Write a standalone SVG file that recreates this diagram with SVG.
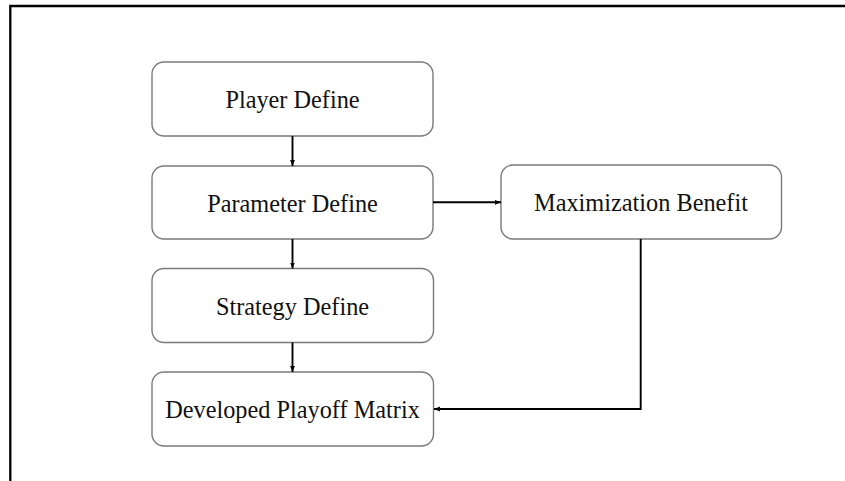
<svg xmlns="http://www.w3.org/2000/svg" width="845" height="481" viewBox="0 0 845 481">
<style>
.box{fill:#fff;stroke:#7a7a7a;stroke-width:1.4}
.lbl{font-family:"Liberation Serif","Times New Roman",serif;font-size:24.3px;fill:#111;text-anchor:middle}
.con{fill:none;stroke:#000;stroke-width:1.9}
.frame{fill:none;stroke:#000;stroke-width:2.3}
</style>
<defs>
<marker id="ah" viewBox="0 0 10 10" refX="10" refY="5" markerWidth="6" markerHeight="6" markerUnits="userSpaceOnUse" orient="auto">
<path d="M0,1 L10,5 L0,9 z" fill="#000"/>
</marker>
</defs>
<rect width="845" height="481" fill="#fff"/>
<path class="frame" d="M10.3,481 V6 H845"/>
<g id="player-define"><rect class="box" x="152" y="62" width="281" height="74" rx="12"/><text class="lbl" x="292.5" y="108">Player Define</text></g>
<g id="parameter-define"><rect class="box" x="152" y="166" width="281" height="73" rx="12"/><text class="lbl" x="292.5" y="211.5">Parameter Define</text></g>
<g id="strategy-define"><rect class="box" x="152" y="268.5" width="281.5" height="74" rx="12"/><text class="lbl" x="292.5" y="315">Strategy Define</text></g>
<g id="developed-playoff-matrix"><rect class="box" x="152" y="372" width="281.5" height="74" rx="12"/><text class="lbl" x="292.5" y="418">Developed Playoff Matrix</text></g>
<g id="maximization-benefit"><rect class="box" x="501" y="165" width="280.5" height="74" rx="12"/><text class="lbl" x="641" y="211">Maximization Benefit</text></g>
<g id="connectors">
<line class="con" x1="292.5" y1="136" x2="292.5" y2="166" marker-end="url(#ah)"/>
<line class="con" x1="292.5" y1="239" x2="292.5" y2="268.5" marker-end="url(#ah)"/>
<line class="con" x1="292.5" y1="342.5" x2="292.5" y2="372" marker-end="url(#ah)"/>
<line class="con" x1="433" y1="202.3" x2="501" y2="202.3" marker-end="url(#ah)"/>
<path class="con" d="M640.7,239 V409 H434" marker-end="url(#ah)"/>
</g>
</svg>
